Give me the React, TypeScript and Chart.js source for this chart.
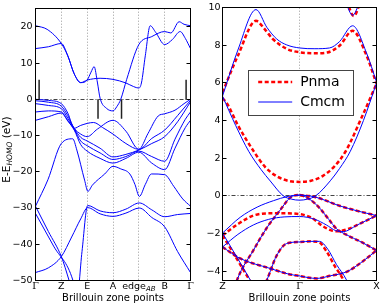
import React, { useEffect, useRef } from "react";
import { Chart, registerables } from "chart.js";
Chart.register(...registerables);

type Pt = [number, number];

// ---------------- Left panel data ----------------
const leftTickLabels = ["Γ", "Z", "E", "A", "edge", "B", "Γ"];
const leftTickValues = [0, 1, 2, 3, 4, 5, 6];
const leftYTicks = [-50, -40, -30, -20, -10, 0, 10, 20];
const leftYRange = [-50, 25];
const leftEdgeSub = "AB";

const leftC1: Pt[] = [[0, 20.3], [0.45, 19.3], [1, 15.4], [1.25, 12], [1.5, 7], [1.75, 4.6], [2, 5.3], [2.15, 7.5], [2.27, 9.0], [2.4, 4.5], [2.5, 0.3], [2.75, -2.5], [3, -3.2], [3.15, -2], [3.3, 0], [3.53, 5.5], [4, 15.1], [4.5, 17.3], [5, 18.7], [5.24, 18.3], [5.56, 21.4], [5.75, 20.7], [6, 20.3]];
const leftC2: Pt[] = [[0, 14], [0.5, 14.5], [1, 15.4], [1.25, 12], [1.5, 7], [1.75, 4.6], [2, 5.3], [2.5, 5.8], [3, 5.5], [3.5, 4.5], [3.8, 3.5], [4, 3.1], [4.1, 4.5], [4.25, 12], [4.44, 20.3], [4.65, 18.5], [5, 15.1], [5.3, 16.5], [5.6, 18.7], [5.8, 16.8], [6, 14]];
const leftV1: Pt[] = [[0, 0], [0.5, -0.3], [1, -1.2], [1.25, -3.8], [1.5, -8.0], [1.75, -7.2], [2.25, -6.4], [2.6, -7.8], [3, -9.6], [3.5, -12.2], [4, -13.8], [4.35, -9.5], [4.75, -4.6], [5, -4.0], [5.4, -3.0], [5.75, -1.2], [6, 0]];
const leftV2: Pt[] = [[0, -0.4], [0.5, -0.8], [1, -1.9], [1.25, -4.5], [1.5, -8.0], [1.75, -9.6], [2, -10.3], [2.4, -8.2], [3, -5.8], [3.5, -8.8], [4, -13.8], [4.5, -10.8], [5, -8.5], [5.5, -4.5], [6, -0.3]];
const leftV3: Pt[] = [[0, -1.2], [0.5, -1.7], [1, -2.6], [1.25, -5.2], [1.5, -8.1], [1.75, -10.5], [2, -11.5], [2.5, -13.5], [3, -15.9], [3.5, -15.2], [4, -14.0], [4.5, -12.2], [5, -10.3], [5.5, -6.2], [6, -0.7]];
const leftV4: Pt[] = [[0, -3.5], [0.5, -3.2], [1, -3.5], [1.25, -5.8], [1.5, -8.3], [1.75, -11.5], [2, -12.8], [2.5, -14.8], [3, -16.6], [3.5, -15.8], [4, -14.3], [4.5, -15.8], [5, -17.1], [5.4, -11], [5.8, -5.5], [6, -3.5]];
const leftV5: Pt[] = [[0, -5.8], [0.5, -4.8], [1, -3.8], [1.25, -6], [1.5, -8.5], [1.75, -12.5], [2, -14.3], [2.5, -16.3], [3, -17.6], [3.5, -16.3], [4, -14.6], [4.5, -17.6], [5, -19.4], [5.4, -13.5], [5.8, -7.8], [6, -5.8]];
const leftD1: Pt[] = [[0, -29.5], [0.48, -22.2], [1, -12.2], [1.44, -10.9], [1.6, -14], [1.9, -22.3], [2.03, -25.4], [2.2, -23.7], [2.68, -20.6], [3, -18.5], [3.3, -19.2], [3.65, -20.6], [3.85, -23.5], [4.02, -26.8], [4.25, -23.5], [4.49, -20.6], [5, -20.8], [5.35, -24], [5.7, -27.5], [6, -29.5]];
const leftP1: Pt[] = [[0, -31.5], [0.7, -40.5], [1.45, -50], [1.6, -55], [1.8, -42], [2.02, -29.3], [2.5, -30.8], [3, -31.3], [3.5, -30.3], [4.02, -28.6], [4.5, -30.5], [5, -32.4], [5.5, -31.8], [6, -31.5]];
const leftP2: Pt[] = [[0, -29.5], [0.5, -36.5], [1, -43.4], [1.3, -50], [1.5, -55]];
const leftD2: Pt[] = [[0, -47.8], [0.5, -46.5], [1, -43.4], [1.4, -38], [1.75, -33], [2.02, -29.9], [2.5, -31.6], [3, -32.3], [3.5, -31.4], [4.02, -30.0], [4.5, -32.6], [5, -35.2], [5.5, -42], [6, -47.8]];
const leftMarkers: Pt[][] = [[[0.14, 0], [0.14, 5.4]], [[2.42, 0], [2.42, -5.4]], [[3.33, 0], [3.33, -5.4]], [[5.83, 0], [5.83, 5.4]]];

// ---------------- Right panel data ----------------
const rightTickLabels = ["Z", "Γ", "X"];
const rightTickValues = [0, 1, 2];
const rightYTicks = [-4, -2, 0, 2, 4, 6, 8, 10];
const rightYRange = [-4.5, 10];
const legendLabels = ["Pnma", "Cmcm"];

const cmcmUpper: Pt[] = [[0, 5.3], [0.2, 7.75], [0.435, 9.9], [0.577, 8.95], [0.706, 8.33], [0.835, 8.02], [1, 7.86], [1.2, 7.82], [1.39, 7.86], [1.52, 8.2], [1.69, 9.04], [1.87, 7.6], [2, 6.05]];
const cmcmCond: Pt[] = [[0, 5.3], [0.17, 3.75], [0.34, 2.37], [0.5, 1.4], [0.62, 0.79], [0.79, 0], [0.9, -0.18], [1, -0.23], [1.1, -0.18], [1.21, 0], [1.4, 0.8], [1.52, 1.45], [1.66, 2.37], [1.83, 4.0], [2, 6.0]];
const cmcmTopDip: Pt[] = [[1.45, 12], [1.6, 10.3], [1.69, 9.6], [1.78, 10.3], [1.93, 12]];
const cmcmVal1: Pt[] = [[0, -1.98], [0.23, -1.14], [0.45, -0.6], [0.66, -0.26], [0.85, -0.03], [1, 0.04], [1.2, -0.06], [1.52, -0.53], [1.75, -0.8], [2, -1.05]];
const cmcmVal2: Pt[] = [[0, -7.2], [0.19, -4.47], [0.4, -2.9], [0.58, -1.67], [0.75, -0.75], [0.88, -0.09], [1, 0.04], [1.12, -0.15], [1.25, -0.6], [1.38, -1.25], [1.48, -1.75], [1.6, -2.05], [1.8, -2.45], [2, -2.9]];
const cmcmVal3: Pt[] = [[0, -2.72], [0.2, -2.05], [0.4, -1.55], [0.6, -1.25], [0.8, -1.12], [1, -1.1], [1.2, -1.25], [1.35, -1.55], [1.47, -1.85], [1.57, -1.9], [1.75, -1.55], [2, -1.05]];
const cmcmVal4: Pt[] = [[0.3, -7.5], [0.45, -5.6], [0.577, -4.47], [0.7, -3.2], [0.83, -2.54], [1, -2.45], [1.15, -2.42], [1.26, -2.42], [1.37, -2.85], [1.48, -3.65], [1.61, -4.47], [1.72, -5.6]];
const cmcmVal5: Pt[] = [[0, -2.72], [0.23, -3.33], [0.62, -3.86], [0.85, -4.15], [1, -4.26], [1.22, -4.39], [1.4, -4.25], [1.61, -4.04], [1.8, -3.55], [2, -2.9]];
const cmcmVal6: Pt[] = [[0, -1.98], [0.12, -2.8], [0.36, -4.47], [0.5, -5.5]];

const pnmaUpper: Pt[] = [[0, 5.5], [0.2, 7.45], [0.435, 9.3], [0.55, 8.85], [0.65, 8.35], [0.835, 7.81], [1, 7.63], [1.2, 7.58], [1.36, 7.62], [1.52, 7.98], [1.69, 8.77], [1.87, 7.46], [2, 5.96]];
const pnmaCond: Pt[] = [[0, 5.2], [0.06, 4.9], [0.2, 3.75], [0.4, 2.4], [0.55, 1.55], [0.7, 1.05], [0.85, 0.8], [1, 0.74], [1.15, 0.8], [1.3, 1.05], [1.45, 1.55], [1.6, 2.37], [1.8, 4.1], [2, 5.96]];
const pnmaTopDip: Pt[] = [[1.47, 12], [1.62, 10.3], [1.705, 9.55], [1.79, 10.3], [1.95, 12]];
const pnmaVal1: Pt[] = [[0, -7.2], [0.19, -4.47], [0.4, -2.9], [0.58, -1.67], [0.75, -0.75], [0.88, -0.09], [1, 0.04], [1.12, -0.15], [1.25, -0.6], [1.38, -1.25], [1.48, -1.75], [1.6, -2.05], [1.8, -2.45], [2, -2.9]];
const pnmaVal2: Pt[] = [[0, -2.1], [0.2, -1.5], [0.4, -1.05], [0.6, -0.93], [0.8, -0.93], [1, -0.97], [1.15, -1.15], [1.3, -1.6], [1.42, -1.85], [1.5, -1.88], [1.62, -1.78], [1.8, -1.45], [2, -1.05]];
const pnmaVal3: Pt[] = [[1, 0.04], [1.2, -0.06], [1.52, -0.53], [1.75, -0.8], [2, -1.05]];
const pnmaVal4: Pt[] = [[0.3, -7.5], [0.45, -5.6], [0.577, -4.47], [0.7, -3.2], [0.83, -2.54], [1, -2.45], [1.15, -2.42], [1.25, -2.45], [1.35, -2.95], [1.46, -3.75], [1.57, -4.47], [1.68, -5.6]];
const pnmaVal5: Pt[] = [[0, -2.72], [0.23, -3.33], [0.62, -3.86], [0.85, -4.15], [1, -4.26], [1.22, -4.39], [1.4, -4.25], [1.61, -4.04], [1.8, -3.55], [2, -2.9]];
const pnmaVal6: Pt[] = [[0, -2.1], [0.12, -2.9], [0.35, -4.47], [0.5, -5.5]];

const leftBands = [leftC1, leftC2, leftV1, leftV2, leftV3, leftV4, leftV5, leftD1, leftP1, leftP2, leftD2];
const cmcmBands = [cmcmUpper, cmcmCond, cmcmTopDip, cmcmVal1, cmcmVal2, cmcmVal3, cmcmVal4, cmcmVal5, cmcmVal6];
const pnmaBands = [pnmaUpper, pnmaCond, pnmaTopDip, pnmaVal1, pnmaVal2, pnmaVal3, pnmaVal4, pnmaVal5, pnmaVal6];

const BLUE = "#0000ff";
const RED = "#ff0000";
const FONT = "DejaVu Sans";

function line(pts: Pt[], color: string, width: number, dash: number[], order: number, smooth = true): any {
  return {
    data: pts.map(([x, y]) => ({ x, y })),
    borderColor: color,
    borderWidth: width,
    borderDash: dash,
    pointRadius: 0,
    fill: false,
    cubicInterpolationMode: smooth ? "monotone" : "default",
    tension: 0,
    order,
    clip: 0,
  };
}

const fmt = (v: number) => (v < 0 ? "\u2212" + Math.abs(v) : String(v));

function makeFrame(cfg: { gridX: number[]; yTicks: number[]; yTitle?: boolean; edgeIndex?: number; legend?: boolean }) {
  return {
    id: "frame",
    beforeDatasetsDraw(chart: any) {
      const { ctx, chartArea: a, scales } = chart;
      const x = scales.x, y = scales.y;
      ctx.save();
      ctx.lineWidth = 1;
      ctx.strokeStyle = "#999";
      ctx.setLineDash([1, 2]);
      for (const v of cfg.gridX) {
        const px = Math.round(x.getPixelForValue(v) - 0.5) + 0.5;
        ctx.beginPath(); ctx.moveTo(px, a.top); ctx.lineTo(px, a.bottom); ctx.stroke();
      }
      ctx.strokeStyle = "#444";
      ctx.setLineDash([4, 2, 1, 2]);
      const py = Math.round(y.getPixelForValue(0) - 0.5) + 0.5;
      ctx.beginPath(); ctx.moveTo(a.left, py); ctx.lineTo(a.right, py); ctx.stroke();
      ctx.restore();
    },
    afterDatasetsDraw(chart: any) {
      const { ctx, chartArea: a, scales } = chart;
      const y = scales.y;
      ctx.save();
      ctx.setLineDash([]);
      ctx.lineWidth = 1;
      ctx.strokeStyle = "#000";
      const L = Math.round(a.left - 0.5) + 0.5, R = Math.round(a.right - 0.5) + 0.5;
      const T = Math.round(a.top - 0.5) + 0.5, B = Math.round(a.bottom - 0.5) + 0.5;
      ctx.strokeRect(L, T, R - L, B - T);
      for (const v of cfg.yTicks) {
        const py = Math.round(y.getPixelForValue(v) - 0.5) + 0.5;
        ctx.beginPath(); ctx.moveTo(L, py); ctx.lineTo(L + 4, py); ctx.moveTo(R - 4, py); ctx.lineTo(R, py); ctx.stroke();
      }
      if (cfg.legend) {
        const lx = a.left + 25, ly = a.top + 62, lw = 105, lh = 44.6;
        ctx.fillStyle = "#fff";
        ctx.fillRect(lx, ly, lw, lh);
        ctx.strokeStyle = "#444";
        ctx.strokeRect(Math.round(lx) + 0.5, Math.round(ly) + 0.5, Math.round(lw), Math.round(lh));
        const rows = [
          { label: legendLabels[0], color: RED, w: 2.5, dash: [4, 2.5], dy: 12.3 },
          { label: legendLabels[1], color: BLUE, w: 1, dash: [], dy: 32.3 },
        ];
        for (const r of rows) {
          ctx.strokeStyle = r.color; ctx.lineWidth = r.w; ctx.setLineDash(r.dash);
          ctx.beginPath(); ctx.moveTo(lx + 10.7, ly + r.dy); ctx.lineTo(lx + 44.7, ly + r.dy); ctx.stroke();
          ctx.setLineDash([]);
          ctx.fillStyle = "#000"; ctx.font = `14px ${FONT}`; ctx.textBaseline = "middle"; ctx.textAlign = "left";
          ctx.fillText(r.label, lx + 52.7, ly + r.dy);
        }
      }
      ctx.restore();
    },
    afterDraw(chart: any) {
      const { ctx, chartArea: a, scales } = chart;
      ctx.save();
      ctx.fillStyle = "#000";
      if (cfg.edgeIndex !== undefined) {
        const px = scales.x.getPixelForValue(leftTickValues[cfg.edgeIndex]);
        const py = a.bottom + 5.8;
        ctx.font = `9.5px ${FONT}`;
        const w1 = ctx.measureText(leftTickLabels[cfg.edgeIndex]).width;
        ctx.font = `italic 7px ${FONT}`;
        const w2 = ctx.measureText(leftEdgeSub).width;
        const sx = px - (w1 + w2) / 2;
        ctx.textBaseline = "middle"; ctx.textAlign = "left";
        ctx.font = `9.5px ${FONT}`;
        ctx.fillText(leftTickLabels[cfg.edgeIndex], sx, py);
        ctx.font = `italic 7px ${FONT}`;
        ctx.fillText(leftEdgeSub, sx + w1, py + 2.5);
      }
      if (cfg.yTitle) {
        const parts = [
          { t: "E-E", f: `10.5px ${FONT}`, dy: 0 },
          { t: "HOMO", f: `italic 7.5px ${FONT}`, dy: 2.8 },
          { t: " (eV)", f: `10.5px ${FONT}`, dy: 0 },
        ];
        let total = 0;
        const widths = parts.map((p) => { ctx.font = p.f; const w = ctx.measureText(p.t).width; total += w; return w; });
        ctx.translate(7.5, (a.top + a.bottom) / 2 + 5);
        ctx.rotate(-Math.PI / 2);
        ctx.textBaseline = "middle"; ctx.textAlign = "left";
        let cx = -total / 2;
        parts.forEach((p, i) => { ctx.font = p.f; ctx.fillText(p.t, cx, p.dy); cx += widths[i]; });
      }
      ctx.restore();
    },
  };
}

function xScale(labels: string[], values: number[], hideIndex: number | undefined) {
  return {
    type: "linear",
    min: values[0],
    max: values[values.length - 1],
    afterBuildTicks: (s: any) => { s.ticks = values.map((v) => ({ value: v })); },
    afterFit: (s: any) => { s.height = 26.5; },
    ticks: {
      autoSkip: false, maxRotation: 0, minRotation: 0, padding: 0, color: "#000",
      callback: (_v: any, i: number) => (i === hideIndex ? "" : labels[i]),
      font: (c: any) => ({ family: labels[c.index] === "Γ" ? "DejaVu Serif" : FONT, size: 9.5 }),
    },
    grid: { display: false, drawTicks: false },
    border: { display: false },
    title: { display: true, text: "Brillouin zone points", color: "#000", font: { family: FONT, size: 10 }, padding: { top: 0, bottom: 3 } },
  };
}

function yScale(range: number[], ticks: number[], width: number, pad: number) {
  return {
    type: "linear",
    min: range[0],
    max: range[1],
    afterBuildTicks: (s: any) => { s.ticks = ticks.map((v) => ({ value: v })); },
    afterFit: (s: any) => { s.width = width; },
    ticks: { padding: pad, color: "#000", font: { family: FONT, size: 9.5 }, callback: (v: any) => fmt(Number(v)) },
    grid: { display: false, drawTicks: false },
    border: { display: false },
  };
}

export default function App() {
  const leftRef = useRef<HTMLCanvasElement>(null);
  const rightRef = useRef<HTMLCanvasElement>(null);

  useEffect(() => {
    document.body.style.margin = "0";
    const leftDatasets = [
      ...leftMarkers.map((m) => line(m, "#222", 1.5, [], 0, false)),
      ...leftBands.map((b) => line(b, BLUE, 1, [], 1)),
    ];
    const c1 = new Chart(leftRef.current as HTMLCanvasElement, {
      type: "line",
      data: { datasets: leftDatasets },
      options: {
        animation: false, responsive: false, devicePixelRatio: 1, events: [],
        layout: { padding: { top: 5.5, right: 9.5, bottom: 0, left: 0 } },
        plugins: { legend: { display: false }, tooltip: { enabled: false } },
        scales: {
          x: xScale(leftTickLabels, leftTickValues, 4) as any,
          y: yScale(leftYRange, leftYTicks, 35.5, 3) as any,
        },
      } as any,
      plugins: [makeFrame({ gridX: leftTickValues.slice(1, -1), yTicks: leftYTicks, yTitle: true, edgeIndex: 4 })],
    });
    const rightDatasets = [
      ...cmcmBands.map((b) => line(b, BLUE, 1, [], 0)),
      ...pnmaBands.map((b) => line(b, RED, 2.5, [4, 2.5], 1)),
    ];
    const c2 = new Chart(rightRef.current as HTMLCanvasElement, {
      type: "line",
      data: { datasets: rightDatasets },
      options: {
        animation: false, responsive: false, devicePixelRatio: 1, events: [],
        layout: { padding: { top: 5.5, right: 5.5, bottom: 0, left: 0 } },
        plugins: { legend: { display: false }, tooltip: { enabled: false } },
        scales: {
          x: xScale(rightTickLabels, rightTickValues, undefined) as any,
          y: yScale(rightYRange, rightYTicks, 30.5, 2) as any,
        },
      } as any,
      plugins: [makeFrame({ gridX: rightTickValues.slice(1, -1), yTicks: rightYTicks, legend: true })],
    });
    return () => { c1.destroy(); c2.destroy(); };
  }, []);

  return (
    <div style={{ position: "relative", width: 382, height: 307, background: "#fff", overflow: "hidden" }}>
      <canvas ref={leftRef} width={200} height={307} style={{ position: "absolute", left: 0, top: 0, width: 200, height: 307 }} />
      <canvas ref={rightRef} width={190} height={307} style={{ position: "absolute", left: 192, top: 0, width: 190, height: 307 }} />
    </div>
  );
}
